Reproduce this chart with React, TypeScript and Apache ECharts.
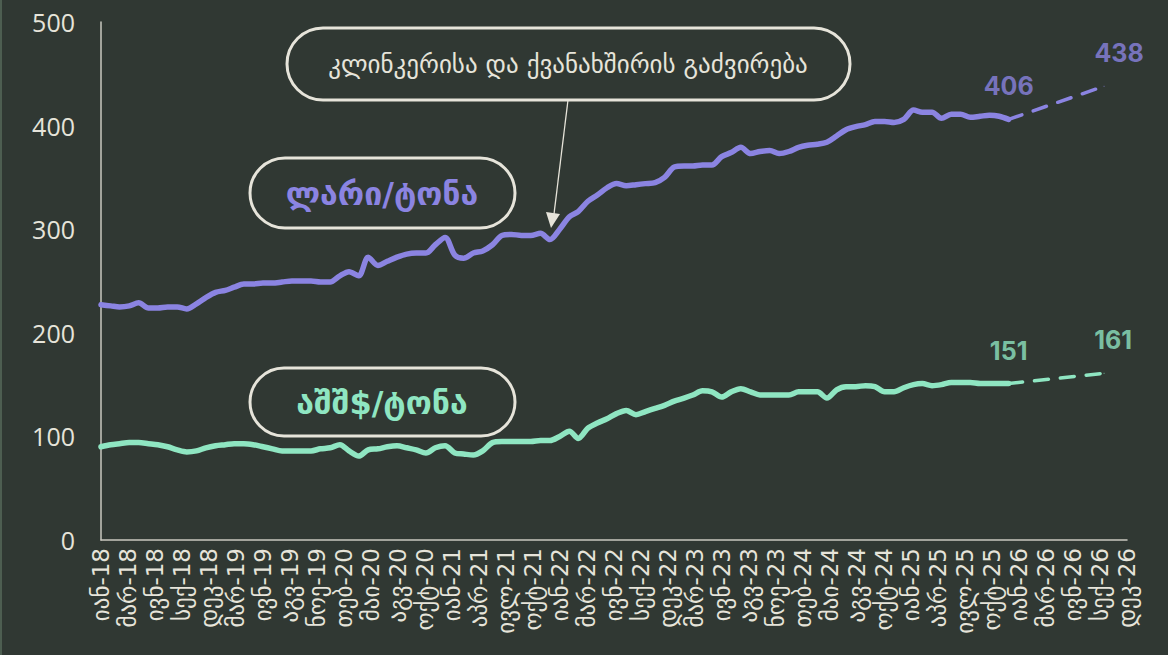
import React, { useEffect, useRef } from "react";
import * as echarts from "echarts";

// ---- data ----
const startYear = 2018;
const monthAbbr = ["იან", "თებ", "მარ", "აპრ", "მაი", "ივნ", "ივლ", "აგვ", "სექ", "ოქტ", "ნოე", "დეკ"];

// monthly values Jan-2018 .. Dec-2025
const gelPerTon = [
  227, 226, 225, 226, 229, 224, 224, 225, 225, 223, 228, 234,
  239, 241, 244, 247, 247, 248, 248, 249, 250, 250, 250, 249,
  249, 255, 259, 255, 273, 265, 269, 273, 276, 277, 277, 285,
  292, 275, 272, 277, 279, 285, 294, 295, 294, 294, 296, 290,
  300, 312, 317, 327, 333, 340, 344, 342, 343, 344, 345, 350,
  360, 361, 361, 362, 362, 370, 374, 379, 373, 375, 376, 373,
  375, 379, 381, 382, 384, 390, 396, 399, 401, 404, 404, 403,
  406, 415, 413, 413, 407, 411, 411, 408, 409, 410, 409, 406,
];
const usdPerTon = [
  90, 92, 93, 94, 94, 93, 92, 90, 87, 85, 86, 89,
  91, 92, 93, 93, 92, 90, 88, 86, 86, 86, 86, 88,
  89, 92, 86, 81, 87, 88, 90, 91, 89, 87, 84, 89,
  91, 84, 83, 82, 86, 94, 95, 95, 95, 95, 96, 96,
  100, 105, 98, 108, 113, 117, 122, 125, 121, 124, 127, 130,
  134, 137, 140, 144, 143, 138, 143, 146, 143, 140, 140, 140,
  140, 143, 143, 143, 137, 145, 148, 148, 149, 148, 143, 143,
  147, 150, 151, 149, 150, 152, 152, 152, 151, 151, 151, 151,
];
// forecast: last actual month -> forecast month
const forecastMonths = ["2025-12", "2026-10"];
const forecastGel = [406, 438];
const forecastUsd = [151, 161];

// x-axis: tick every 86 days starting 1 Jan 2018, 38 intervals
const tickDays = 86;
const tickCount = 38;
const yTicks = [0, 100, 200, 300, 400, 500];

const ORIGIN = Date.UTC(startYear, 0, 1);
const DAY = 86400000;
const dayOffset = (y: number, m: number) => (Date.UTC(y, m, 1) - ORIGIN) / DAY;
const monthX = (i: number) => dayOffset(startYear + Math.floor(i / 12), i % 12);
const strX = (s: string) => {
  const [y, m] = s.split("-").map(Number);
  return dayOffset(y, m - 1);
};

const BG = "#303833";
const FG = "#e6e4da";
const PURPLE = "#8b84e2";
const GREEN = "#8fe6c2";
const GEO = "'DejaVu Sans', 'Noto Sans', sans-serif";
const NUM = "Inter, 'Open Sans', sans-serif";

export default function App() {
  const ref = useRef<HTMLDivElement>(null);
  useEffect(() => {
    document.body.style.margin = "0";
    document.body.style.background = BG;
    const chart = echarts.init(ref.current!, undefined, { renderer: "svg" });

    const gelData = gelPerTon.map((v, i) => [monthX(i), v]);
    const usdData = usdPerTon.map((v, i) => [monthX(i), v]);
    const fGel = forecastGel.map((v, i) => [strX(forecastMonths[i]), v]);
    const fUsd = forecastUsd.map((v, i) => [strX(forecastMonths[i]), v]);

    const labelStyle = (color: string, dx: number) => ({
      show: true,
      position: "top",
      distance: 20,
      offset: [dx, 0],
      color,
      fontFamily: NUM,
      fontWeight: "bold",
      fontSize: 25,
      formatter: (p: any) => String(p.value[1]),
    });

    const pill = (x: number, y: number, w: number, h: number) => ({
      type: "rect",
      shape: { x, y, width: w, height: h, r: h / 2 },
      style: { fill: BG, stroke: FG, lineWidth: 3 },
      z: 10,
    });

    chart.setOption({
      animation: false,
      backgroundColor: BG,
      grid: { left: 101, right: 41, top: 22, bottom: 115, containLabel: false },
      xAxis: {
        type: "value",
        min: 0,
        max: tickDays * tickCount,
        interval: tickDays,
        axisLine: { show: true, lineStyle: { color: "#c9c8c0", width: 1.5 } },
        axisTick: { show: false },
        splitLine: { show: false },
        axisLabel: {
          rotate: 90,
          margin: 8,
          color: FG,
          fontSize: 23,
          fontFamily: GEO,
          formatter: (v: number) => {
            const d = new Date(ORIGIN + v * DAY);
            return monthAbbr[d.getUTCMonth()] + "-" + String(d.getUTCFullYear()).slice(2);
          },
        },
      },
      yAxis: {
        type: "value",
        min: yTicks[0],
        max: yTicks[yTicks.length - 1],
        interval: 100,
        axisLine: { show: true, lineStyle: { color: "#c9c8c0", width: 1.5 } },
        axisTick: { show: false },
        splitLine: { show: false },
        axisLabel: { color: FG, fontSize: 25, fontFamily: "'Open Sans', sans-serif", margin: 26 },
      },
      series: [
        {
          type: "line",
          data: gelData,
          smooth: 0.3,
          showSymbol: false,
          lineStyle: { color: PURPLE, width: 5.5, cap: "round", join: "round" },
          z: 3,
        },
        {
          type: "line",
          data: usdData,
          smooth: 0.3,
          showSymbol: false,
          lineStyle: { color: GREEN, width: 5.5, cap: "round", join: "round" },
          z: 3,
        },
        {
          type: "line",
          data: fGel,
          showSymbol: false,
          lineStyle: { color: PURPLE, width: 3.5, type: [14, 12], cap: "round" },
          z: 2,
        },
        {
          type: "line",
          data: fUsd,
          showSymbol: false,
          lineStyle: { color: GREEN, width: 3.5, type: [14, 12], cap: "round" },
          z: 2,
        },
        {
          type: "scatter",
          data: [fGel[0]],
          symbolSize: 1,
          itemStyle: { color: PURPLE },
          label: labelStyle(PURPLE, 0),
          z: 4,
        },
        {
          type: "scatter",
          data: [fGel[1]],
          symbolSize: 1,
          itemStyle: { color: PURPLE },
          label: labelStyle(PURPLE, 15),
          z: 4,
        },
        {
          type: "scatter",
          data: [fUsd[0]],
          symbolSize: 1,
          itemStyle: { color: GREEN },
          label: labelStyle(GREEN, 0),
          z: 4,
        },
        {
          type: "scatter",
          data: [fUsd[1]],
          symbolSize: 1,
          itemStyle: { color: GREEN },
          label: labelStyle(GREEN, 9),
          z: 4,
        },
      ],
      graphic: [
        pill(287, 28, 563, 72),
        {
          type: "text",
          x: 568,
          y: 64,
          z: 11,
          style: {
            text: "კლინკერისა და ქვანახშირის გაძვირება",
            fill: FG,
            font: `25px ${GEO}`,
            align: "center",
            verticalAlign: "middle",
          },
        },
        {
          type: "line",
          shape: { x1: 568, y1: 100, x2: 554, y2: 214 },
          style: { stroke: FG, lineWidth: 1.3 },
          z: 11,
        },
        {
          type: "polygon",
          shape: { points: [[551, 228], [546, 212], [560, 214]] },
          style: { fill: FG },
          z: 11,
        },
        pill(250, 158, 265, 70),
        {
          type: "text",
          x: 382,
          y: 194,
          z: 11,
          style: {
            text: "ლარი/ტონა",
            fill: PURPLE,
            font: `bold 32px ${GEO}`,
            align: "center",
            verticalAlign: "middle",
          },
        },
        pill(250, 368, 265, 68),
        {
          type: "text",
          x: 382,
          y: 403,
          z: 11,
          style: {
            text: "აშშ$/ტონა",
            fill: GREEN,
            font: `bold 32px ${GEO}`,
            align: "center",
            verticalAlign: "middle",
          },
        },
        {
          type: "rect",
          shape: { x: 0, y: 0, width: 2, height: 655 },
          style: { fill: "#4d5e51" },
          z: 12,
        },
      ],
    });
    return () => chart.dispose();
  }, []);
  return (
    <div
      ref={ref}
      style={{ position: "absolute", left: 0, top: 0, width: 1168, height: 655 }}
    />
  );
}
